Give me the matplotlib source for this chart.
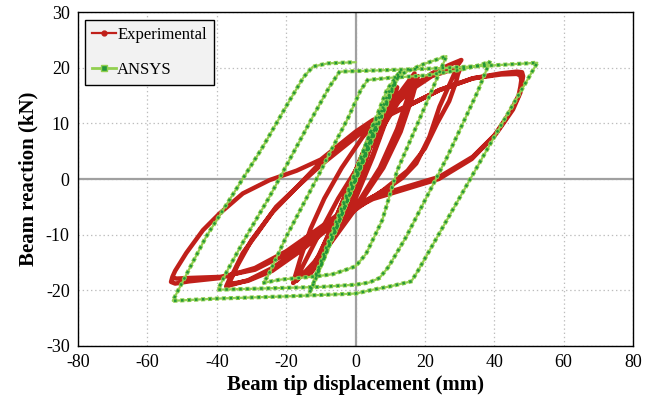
import matplotlib
matplotlib.use("Agg")
import matplotlib.pyplot as plt
from matplotlib.lines import Line2D

# Experimental hysteresis: displacement (mm) and beam reaction (kN), cycle by cycle
exp_disp = [
    0, 2.5, 5,
    3.5, 1, -2, -5,
    -3.5, -1, 2, 5,
    3.5, 0.5, -2.5, -5.5,
    -3.5, 0, 4, 8,
    6, 2, -2, -6, -9,
    -7, -3, 1, 5, 8.5,
    6.5, 2, -3, -7, -9.5,
    -7, -2, 3, 8, 11.5,
    9.5, 5, 0, -5, -10, -13,
    -11, -5, 1, 6, 12,
    10, 5, 0, -6, -11, -14,
    -12, -7, -1, 5, 11, 17,
    15.5, 12, 7, 1, -6, -12, -17,
    -15.5, -11, -5, 2, 9, 14, 18,
    16.5, 13, 8, 1, -6, -12, -18,
    -16, -13, -9, -4, 2, 8, 15, 22, 27, 30.5,
    29.5, 28.1, 24.2, 21.3, 17.5, 13.5, 9.8, 5, 0.2, -8, -16, -24, -31, -35, -37.3,
    -36.5, -35, -32.5, -27.7, -22.9, -17, -10.4, -3, 4, 10, 16, 22, 27, 29.5, 30,
    29.5, 29, 27, 23.5, 20, 15, 8, 0, -8, -16, -24, -31, -34.5, -36.5,
    -35.5, -34, -30, -24, -17, -10, -3, 5, 14.6, 24.2, 33.8, 42, 46.5, 48, 48.3,
    48, 47.5, 45.4, 40.6, 33.8, 24.2, 14.6, 5, -4.6, -12, -20, -29, -39, -48, -52, -53.2,
    -52.8, -52, -48.8, -44, -39.2, -32.5, -24.8, -17, -10, -4, 0, 5, 14.6, 24.2, 33.8, 42, 46.5, 47.5, 47.8,
    47.5, 47, 44.5, 40, 33.5, 24, 14.5, 5, -4.5, -12, -20, -29, -39, -48, -51.5, -52.5,
]
exp_force = [
    0, 5, 9,
    5.5, 0.5, -4, -9,
    -5.5, -0.5, 4, 8.5,
    5, 0, -5, -9.5,
    -6, 0.5, 7.5, 13,
    9, 2, -4, -9.5, -13.5,
    -10, -3.5, 3, 9, 13.5,
    9.5, 2, -5, -10.5, -14,
    -10.5, -2.5, 5.5, 12.5, 16,
    12, 4.5, -3, -9, -14.5, -17,
    -14.5, -6, 3, 10, 16.5,
    12.5, 4, -3.5, -10, -15, -17.5,
    -15.5, -9, 0, 8, 14, 19,
    15.5, 9, 2, -4, -10, -15, -18.3,
    -16, -10.5, -3.5, 3.5, 10.5, 15.5, 18.5,
    15, 8.5, 2, -4.5, -10.5, -15.5, -18.7,
    -14.5, -9, -3.5, 2, 7.5, 12, 16, 19, 20.5, 21.4,
    20.5, 18.4, 13, 7.6, 2.8, 0.2, -1.4, -3.2, -5, -8.5, -12.5, -16, -18.2, -18.9, -19.3,
    -18.2, -16.5, -13.3, -9.2, -5, -1.5, 2.8, 6.5, 9.5, 12.5, 16, 18.5, 19.5, 19.8, 19.6,
    18.8, 17.5, 14, 10, 5.5, 1.5, -2, -5.5, -9, -13, -16.5, -18.3, -18.7, -18.8,
    -17.5, -15.5, -11, -6, -1.5, 2.5, 6, 10, 13, 16, 18.1, 19, 19.3, 19.2, 18.5,
    17.3, 15.5, 12.5, 8.2, 4, 0.4, -1.4, -3.2, -6.2, -9.5, -13, -16, -17.8, -18.4, -18.8, -18.5,
    -17.6, -16.5, -13.3, -9.2, -6.2, -2.6, -0.2, 1.5, 3.5, 6.5, 8.5, 10.6, 13, 16, 18.1, 18.8, 18.9, 18.6, 17.8,
    16.5, 15, 12, 7.8, 3.6, 0, -1.8, -3.6, -6.6, -10, -13.5, -16.3, -17.6, -17.8, -17.9, -17.8,
]

# ANSYS model response (turning points and yield corners)
ansys_disp = [
    0, 6, -6,
    9.5, 11.5, -9.5, -11.5,
    9, 13, -9, -11.5, -13.3,
    -6.5, 5, 8.9, 11, 12.7, 19, 26.2,
    20, 12, 7.7, 3, 0, -2.7, -6.5, -11.3, -21.9, -26.7,
    -25.3, -20, -10.4, -7, -2.2, 1.5, 3.5, 10, 20, 30, 36, 38.7,
    35.2, 26.3, 14.6, 9.5, 6.9, 4, 0, -10, -39.7,
    -37, -31.5, -24.8, -11.8, -7.5, -4.6, 0, 20, 36, 52.4,
    39.2, 18, 16.1, 10, 5, 0, -20, -40, -52.7,
    -50.8, -43.1, -36.4, -27, -19.5, -15, -12.3, -8, -4, 0,
]
ansys_force = [
    0, 9.8, -9.8,
    15.5, 17.5, -15.0, -17.3,
    16, 19.5, -14, -18, -20.5,
    -10.1, 9.7, 13.9, 17, 18.7, 20.5, 22.1,
    13, 1.5, -7.4, -13.5, -15.7, -16.3, -17.1, -17.5, -18.1, -18.7,
    -17.5, -10.4, 1.0, 5.2, 10.9, 16, 17.8, 18.2, 18.6, 19.6, 20.5, 21.1,
    15.7, 3.8, -10.4, -15.8, -17.8, -18.6, -19.0, -19.4, -19.9,
    -16.5, -10.3, -3.2, 11.8, 16.6, 19.3, 19.4, 19.8, 20.3, 20.9,
    6.7, -16.5, -18.4, -19.3, -19.9, -20.6, -21.1, -21.5, -21.9,
    -19.6, -10.4, -3.8, 5.5, 13.6, 18.3, 20.2, 20.8, 20.9, 21.0,
]

x_ticks = [-80, -60, -40, -20, 0, 20, 40, 60, 80]
y_ticks = [-30, -20, -10, 0, 10, 20, 30]

red = "#C0201A"
light_green = "#92D050"
dark_green = "#23963A"

plt.rcParams["font.family"] = ["Liberation Serif", "DejaVu Serif"]
plt.rcParams["axes.unicode_minus"] = False
plt.rcParams["lines.scale_dashes"] = False

fig = plt.figure(figsize=(6.56, 4.05), dpi=100)
ax = fig.add_axes([0.119, 0.146, 0.846, 0.824])

ax.set_xlim(-80, 80)
ax.set_ylim(-30, 30)
ax.set_xticks(x_ticks)
ax.set_yticks(y_ticks)
ax.tick_params(length=0, labelsize=13, pad=6)
ax.grid(True, color="#bdbdbd", linestyle=(0, (1, 2)), linewidth=0.9)
ax.axhline(0, color="#a0a0a0", linewidth=1.6, zorder=1)
ax.axvline(0, color="#a0a0a0", linewidth=1.6, zorder=1)
ax.set_axisbelow(True)
for sp in ax.spines.values():
    sp.set_linewidth(1.0)

# experimental curve: thick red band
ax.plot(exp_disp, exp_force, color=red, linewidth=3.2,
        solid_joinstyle="round", solid_capstyle="round", zorder=3)

# ANSYS curve: light green line, square markers dotted along the path
dots = (0, (0.01, 5.0))
ax.plot(ansys_disp, ansys_force, color=light_green, linewidth=1.6,
        solid_joinstyle="round", zorder=4)
ax.plot(ansys_disp, ansys_force, color=light_green, linewidth=3.0,
        linestyle=dots, dash_capstyle="projecting", zorder=5)
ax.plot(ansys_disp, ansys_force, color=dark_green, linewidth=1.8,
        linestyle=dots, dash_capstyle="projecting", zorder=6)

ax.set_xlabel("Beam tip displacement (mm)", fontsize=15, fontweight="bold", labelpad=3)
ax.set_ylabel("Beam reaction (kN)", fontsize=15, fontweight="bold", labelpad=5)

handles = [
    Line2D([], [], color=red, linewidth=1.6, marker="o", markersize=3.5,
           markerfacecolor=red, markeredgecolor=red),
    Line2D([], [], color=light_green, linewidth=2.0, marker="s", markersize=4,
           markerfacecolor=dark_green, markeredgecolor=light_green),
]
leg = ax.legend(handles, ["Experimental", "ANSYS"], loc="upper left",
                bbox_to_anchor=(0.012, 0.977), borderaxespad=0, fontsize=12,
                fancybox=False, framealpha=1, edgecolor="black",
                facecolor="#f2f2f2", labelspacing=1.1, handlelength=1.4,
                handletextpad=0.1, borderpad=0.45)
leg.get_frame().set_linewidth(1.0)

fig.savefig("out.png", dpi=100)
